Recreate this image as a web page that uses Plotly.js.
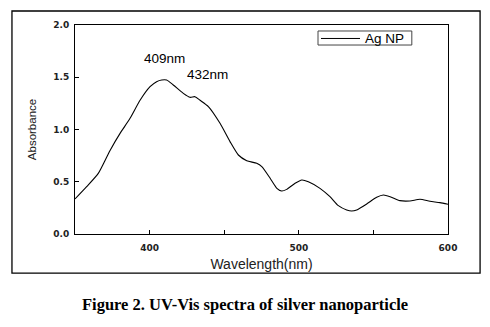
<!DOCTYPE html>
<html>
<head>
<meta charset="utf-8">
<script src="https://cdn.plot.ly/plotly-3.0.1.min.js"></script>
<style>
  html, body { margin: 0; padding: 0; background: #fff; }
  #chart { width: 490px; height: 327px; }
</style>
</head>
<body>
<div id="chart"></div>
<script>
const wavelength = [350, 357.8, 365.6, 373.5, 380.2, 386.9, 393.6, 400.3, 404.7, 408.1, 411.4, 415.9, 422.6, 427.1, 430.4, 433.8, 439.4, 447.2, 453.9, 459.5, 465.1, 471.8, 475.2, 480.8, 485.3, 488.5, 491.9, 497.5, 502, 506.4, 514.2, 520.9, 526.5, 532.1, 535.4, 538.8, 545.5, 552.2, 556.7, 561.2, 567.8, 574.5, 581.2, 587.9, 594.6, 600];
const absorbance = [0.335, 0.453, 0.58, 0.80, 0.963, 1.107, 1.28, 1.41, 1.458, 1.474, 1.474, 1.426, 1.346, 1.308, 1.314, 1.28, 1.219, 1.059, 0.884, 0.756, 0.702, 0.676, 0.644, 0.533, 0.437, 0.411, 0.427, 0.485, 0.517, 0.50, 0.437, 0.357, 0.271, 0.23, 0.22, 0.23, 0.287, 0.351, 0.373, 0.357, 0.319, 0.316, 0.332, 0.313, 0.30, 0.284];
const seriesName = "Ag NP";
const peakLabels = ["409nm", "432nm"];
const xTicks = [400, 500, 600];
const yTicks = [0.0, 0.5, 1.0, 1.5, 2.0];

const trace = {
  x: wavelength, y: absorbance, name: seriesName,
  type: "scatter", mode: "lines", showlegend: false,
  line: { color: "#000", width: 1.1, shape: "spline", smoothing: 0.6 }
};

const sans = "Liberation Sans, Arial, sans-serif";
const tickFont = { family: "DejaVu Sans, sans-serif", size: 9, color: "#222", weight: "bold" };
const layout = {
  width: 490, height: 327,
  margin: { l: 75, r: 42, t: 25, b: 93 },
  paper_bgcolor: "#fff", plot_bgcolor: "#fff",
  showlegend: false,
  xaxis: {
    range: [350, 600], tickvals: xTicks, ticktext: xTicks.map(String),
    ticks: "inside", ticklen: 4, tickcolor: "#000", ticklabelstandoff: 5,
    minor: { dtick: 50, tick0: 350, ticks: "inside", ticklen: 4, tickcolor: "#000" },
    showline: true, linecolor: "#000", linewidth: 1, mirror: true,
    showgrid: false, zeroline: false, tickfont: tickFont,
    title: { text: "Wavelength(nm)", standoff: 7,
      font: { family: sans, size: 14, color: "#222" } }
  },
  yaxis: {
    range: [0, 2.0], tickvals: yTicks, ticktext: yTicks.map(v => v.toFixed(1)),
    ticks: "inside", ticklen: 4, tickcolor: "#000", ticklabelstandoff: 3,
    showline: true, linecolor: "#000", linewidth: 1, mirror: true,
    showgrid: false, zeroline: false, tickfont: tickFont,
    title: { text: "Absorbance", standoff: 14,
      font: { family: sans, size: 11.5, color: "#222" } }
  },
  annotations: [
    { x: 410.3, y: 1.684, xref: "x", yref: "y", text: peakLabels[0], showarrow: false,
      font: { family: sans, size: 13.5, color: "#000" } },
    { x: 439.1, y: 1.53, xref: "x", yref: "y", text: peakLabels[1], showarrow: false,
      font: { family: sans, size: 13.5, color: "#000" } },
    { x: 0.8865, y: 0.9355, xref: "paper", yref: "paper", showarrow: false,
      text: seriesName, xanchor: "right", yanchor: "middle",
      font: { family: sans, size: 13.5, color: "#000" } },
    { x: 0.456, y: -0.39, xref: "paper", yref: "paper", showarrow: false,
      text: "<b>Figure 2. UV-Vis spectra of silver nanoparticle</b>",
      font: { family: "Liberation Serif, Times New Roman, serif", size: 16.5, color: "#000" } }
  ],
  shapes: [
    { type: "rect", xref: "paper", yref: "paper",
      x0: -0.169, x1: 1.086, y0: -0.187, y1: 1.067,
      line: { color: "#000", width: 1.3 }, fillcolor: "rgba(0,0,0,0)", layer: "below" },
    { type: "rect", xref: "paper", yref: "paper",
      x0: 0.6515, x1: 0.903, y0: 0.9042, y1: 0.9713,
      line: { color: "#444", width: 1 }, fillcolor: "#fff" },
    { type: "line", xref: "paper", yref: "paper",
      x0: 0.6595, x1: 0.7641, y0: 0.9355, y1: 0.9355,
      line: { color: "#000", width: 1 } }
  ]
};

Plotly.newPlot("chart", [trace], layout, { displayModeBar: false, staticPlot: true });
</script>
</body>
</html>
